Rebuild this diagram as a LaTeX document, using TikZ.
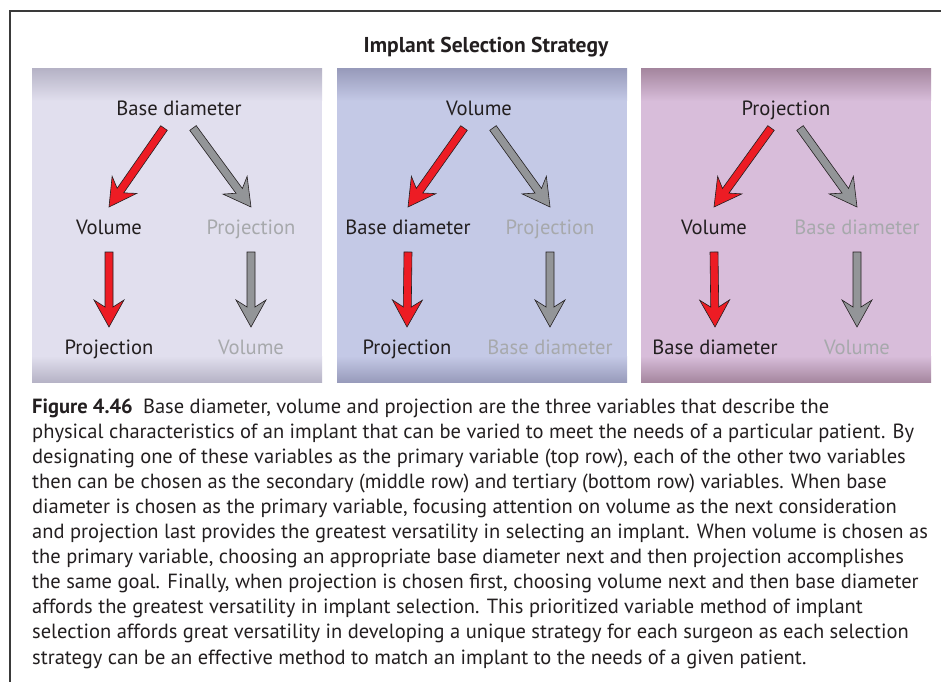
\documentclass[tikz,border=0pt]{standalone}
\usepackage{fontspec}
\setmainfont{PT Sans}
\usetikzlibrary{calc}
\definecolor{ink}{HTML}{231F20}
\definecolor{faintink}{HTML}{A7A9AC}
\definecolor{framegray}{HTML}{3A3A3A}
\definecolor{arrowred}{HTML}{ED1C24}
\definecolor{arrowgray}{HTML}{939598}
\definecolor{panelA}{HTML}{E1DFEE}
\definecolor{panelAedge}{HTML}{B6B3C6}
\definecolor{panelB}{HTML}{C4C9E6}
\definecolor{panelBedge}{HTML}{989BBB}
\definecolor{panelC}{HTML}{D8BDDA}
\definecolor{panelCedge}{HTML}{A5879F}
\tikzset{
  varlabel/.style={font=\fontsize{20.6}{24}\selectfont, text=ink, anchor=base, inner sep=0pt},
  faintlabel/.style={varlabel, text=faintink},
  titlelabel/.style={font=\fontsize{21.5}{24}\selectfont\bfseries, text=ink, anchor=base, inner sep=0pt},
  captiontext/.style={font=\fontsize{20.5}{25.1}\selectfont, text=ink, align=left, anchor=base west, inner sep=0pt},
  blkline/.style={draw=ink, line width=0.6pt, line join=miter},
  frameline/.style={draw=framegray, line width=1.3pt},
}
% block arrow: fill, from node, shift from its base, to node
\newcommand{\blkarrow}[4]{%
  \coordinate (ba) at ($(#2.base)+#3$);
  \coordinate (bb) at ($(#4.base)+(0,-27)$);
  \coordinate (bj) at ($(bb)!20pt!(ba)$);
  \coordinate (bc) at ($(bb)!27pt!(ba)$);
  \filldraw[fill=#1, blkline] ($(ba)!4pt!90:(bb)$) -- ($(bj)!4pt!90:(bb)$)
    -- ($(bc)!15pt!90:(bb)$) -- (bb) -- ($(bc)!15pt!-90:(bb)$)
    -- ($(bj)!4pt!-90:(bb)$) -- ($(ba)!4pt!-90:(bb)$) -- cycle;
}
\begin{document}
\begin{tikzpicture}[x=1pt, y=-1pt]
  \useasboundingbox (0,0) rectangle (941,682);
  \fill[white] (0,0) rectangle (941,682);
  \draw[frameline] (941,11) -- (10,11) -- (10,682);

  \node[titlelabel] (title) at (486,53) {Implant Selection Strategy};

  % panels
  \foreach \px/\main/\edge in {32/panelA/panelAedge, 337/panelB/panelBedge, 641/panelC/panelCedge} {
    \fill[\main] (\px,69) rectangle ++(290,313);
    \shade[top color=\edge, bottom color=\main] (\px,69) rectangle ++(290,32);
    \shade[top color=\main, bottom color=\edge] (\px,356) rectangle ++(290,26);
  }

  % base diameter first
  \node[varlabel] (t1) at (179,115) {Base diameter};
  \node[varlabel] (l1) at (109,234) {Volume};
  \node[faintlabel] (r1) at (251,234) {Projection};
  \node[varlabel] (lb1) at (109,354) {Projection};
  \node[faintlabel] (rb1) at (251,354) {Volume};

  % volume first
  \node[varlabel] (t2) at (479,115) {Volume};
  \node[varlabel] (l2) at (408,234) {Base diameter};
  \node[faintlabel] (r2) at (550,234) {Projection};
  \node[varlabel] (lb2) at (407,354) {Projection};
  \node[faintlabel] (rb2) at (550,354) {Base diameter};

  % projection first
  \node[varlabel] (t3) at (786,115) {Projection};
  \node[varlabel] (l3) at (714,234) {Volume};
  \node[faintlabel] (r3) at (857,234) {Base diameter};
  \node[varlabel] (lb3) at (715,354) {Base diameter};
  \node[faintlabel] (rb3) at (857,354) {Volume};

  \foreach \n in {1,2,3} {
    \blkarrow{arrowred}{t\n}{(-15,13)}{l\n}
    \blkarrow{arrowgray}{t\n}{(14,13)}{r\n}
    \blkarrow{arrowred}{l\n}{(0,18)}{lb\n}
    \blkarrow{arrowgray}{r\n}{(0,18)}{rb\n}
  }

  \node[captiontext] (cap) at (32,664) {\textbf{Figure 4.46}\enspace Base diameter, volume and projection are the three variables that describe the\\
physical characteristics of an implant that can be varied to meet the needs of a particular patient. By\\
designating one of these variables as the primary variable (top row), each of the other two variables\\
then can be chosen as the secondary (middle row) and tertiary (bottom row) variables. When base\\
diameter is chosen as the primary variable, focusing attention on volume as the next consideration\\
and projection last provides the greatest versatility in selecting an implant. When volume is chosen as\\
the primary variable, choosing an appropriate base diameter next and then projection accomplishes\\
the same goal. Finally, when projection is chosen first, choosing volume next and then base diameter\\
affords the greatest versatility in implant selection. This prioritized variable method of implant\\
selection affords great versatility in developing a unique strategy for each surgeon as each selection\\
strategy can be an effective method to match an implant to the needs of a given patient.};
\end{tikzpicture}
\end{document}
